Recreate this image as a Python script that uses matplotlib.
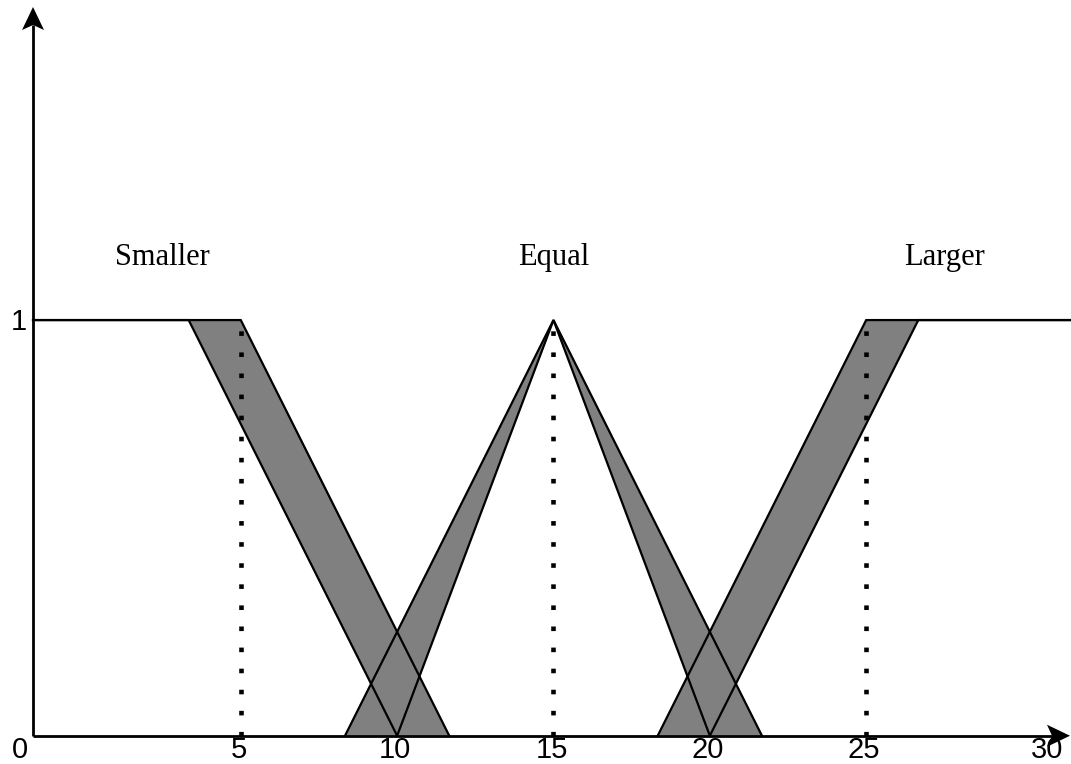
import matplotlib

matplotlib.use("Agg")
import matplotlib.pyplot as plt
import numpy as np
from matplotlib.patches import Polygon

W, H, DPI = 1071, 764, 100
GRAY = "#808080"

# interval type-2 membership functions: (x breakpoints, membership) for the
# upper and lower bound of each linguistic term
X_LEFT, X_RIGHT = -1.644, 32.0
smaller_upper_x = [X_LEFT, 5, 35 / 3]
smaller_lower_x = [X_LEFT, 10 / 3, 10]
smaller_mu = [1, 1, 0]
equal_upper_x = [25 / 3, 15, 65 / 3]
equal_lower_x = [10, 15, 20]
equal_mu = [0, 1, 0]
larger_upper_x = [55 / 3, 25, X_RIGHT]
larger_lower_x = [20, 80 / 3, X_RIGHT]
larger_mu = [0, 1, 1]

term_names = ["Smaller", "Equal", "Larger"]
term_label_x = [2.5, 15, 27.5]
term_label_y = 1.132
centres = [5, 15, 25]
x_ticks = [0, 5, 10, 15, 20, 25, 30]

XLIM = (-2.70, 31.55)
YLIM = (-0.068, 1.770)

fig = plt.figure(figsize=(W / DPI, H / DPI), dpi=DPI)
ax = fig.add_axes([0, 0, 1, 1])
ax.set_xlim(*XLIM)
ax.set_ylim(*YLIM)
ax.set_axis_off()

# data units per pixel, used for the arrow heads and label offsets
sx = (XLIM[1] - XLIM[0]) / W
sy = (YLIM[1] - YLIM[0]) / H

terms = [
    (smaller_upper_x, smaller_lower_x, smaller_mu),
    (equal_upper_x, equal_lower_x, equal_mu),
    (larger_upper_x, larger_lower_x, larger_mu),
]
for up_x, lo_x, mu in terms:
    px = np.concatenate([up_x, lo_x[::-1]])
    py = np.concatenate([mu, mu[::-1]])
    ax.fill(px, py, color=GRAY, lw=0, zorder=1)
    ax.plot(up_x, mu, color="black", lw=1.6, zorder=3, solid_joinstyle="miter")
    ax.plot(lo_x, mu, color="black", lw=1.6, zorder=3, solid_joinstyle="miter")

for c in centres:
    ax.plot([c, c], [0, 1], color="black", lw=3.3,
            linestyle=(0, (1, 3.6)), zorder=4)

# axes with arrow heads
y_tip = YLIM[1] - 7 * sy
x_tip = XLIM[0] + 1070 * sx
ax.plot([X_LEFT, X_LEFT], [0, y_tip - 18 * sy], color="black", lw=2,
        solid_capstyle="butt", zorder=5)
ax.plot([X_LEFT, x_tip - 16 * sx], [0, 0], color="black", lw=2,
        solid_capstyle="butt", zorder=5)
head_up = [(0, 0), (-11, -23), (0, -18), (11, -23)]
ax.add_patch(Polygon([(X_LEFT + dx * sx, y_tip + dy * sy) for dx, dy in head_up],
                     closed=True, color="black", lw=0, zorder=6))
ax.add_patch(Polygon([(x_tip + dy * sx, dx * sy) for dx, dy in head_up],
                     closed=True, color="black", lw=0, zorder=6))

tick_font = dict(family="Liberation Sans", size=21, color="black")
for t in x_ticks:
    if t == x_ticks[0]:
        xpos = X_LEFT - 13 * sx
    elif t == x_ticks[-1]:
        xpos = t + 25 * sx
    else:
        xpos = t - 2 * sx
    ax.text(xpos, -22.5 * sy, str(t), ha="center", va="baseline",
            zorder=7, **tick_font)
ax.text(X_LEFT - 14 * sx, 1 - 9.5 * sy, "1", ha="center", va="baseline",
        **tick_font)

for name, lx in zip(term_names, term_label_x):
    ax.text(lx, term_label_y, name, ha="center", va="baseline",
            family="Liberation Serif", size=22, color="black")

fig.savefig("out.png", dpi=DPI)
